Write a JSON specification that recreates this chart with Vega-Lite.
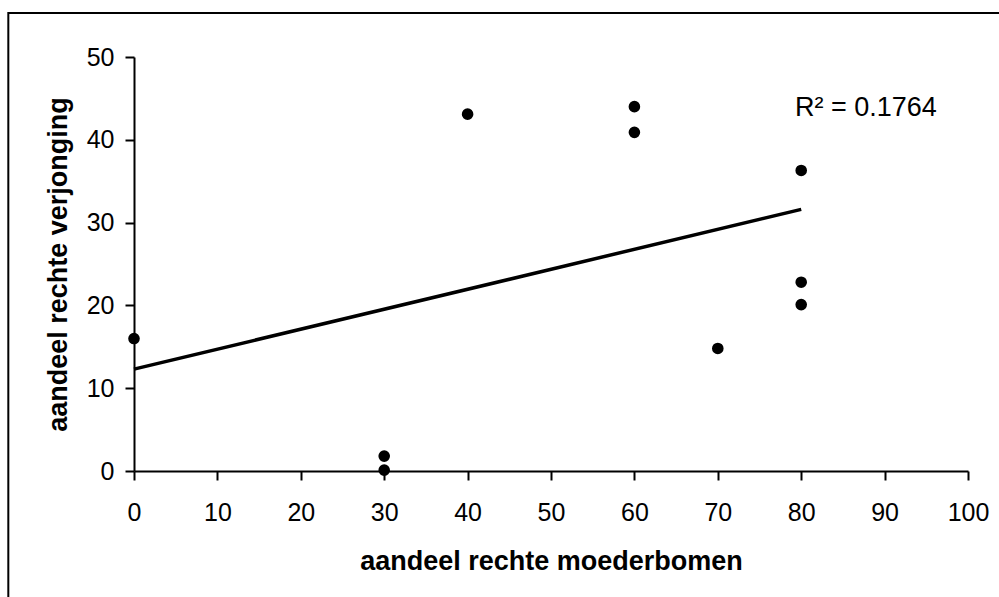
{
  "$schema": "https://vega.github.io/schema/vega-lite/v6.json",
  "autosize": {"type": "none"},
  "padding": {"left": 134, "top": 57, "right": 31, "bottom": 126},
  "width": 834,
  "height": 414,
  "background": "white",
  "config": {
    "view": {"stroke": null},
    "font": "Liberation Sans",
    "axis": {
      "grid": false,
      "labelFlush": false,
      "labelOverlap": false,
      "domainColor": "black",
      "domainWidth": 2,
      "tickColor": "black",
      "tickWidth": 2,
      "tickSize": 9,
      "labelColor": "black",
      "labelFont": "Liberation Sans",
      "labelFontSize": 25,
      "titleColor": "black",
      "titleFont": "Liberation Sans",
      "titleFontSize": 27,
      "titleFontWeight": "bold"
    }
  },
  "datasets": {
    "punten": [
      {"moeder": 0, "verjonging": 16.0},
      {"moeder": 30, "verjonging": 1.8},
      {"moeder": 30, "verjonging": 0.1},
      {"moeder": 40, "verjonging": 43.1},
      {"moeder": 60, "verjonging": 44.0},
      {"moeder": 60, "verjonging": 40.9},
      {"moeder": 70, "verjonging": 14.8},
      {"moeder": 80, "verjonging": 36.3},
      {"moeder": 80, "verjonging": 22.8},
      {"moeder": 80, "verjonging": 20.1}
    ],
    "trend": [
      {"moeder": 0, "verjonging": 12.3},
      {"moeder": 80, "verjonging": 31.6}
    ],
    "label": [
      {"moeder": 79.26, "verjonging": 42.87, "tekst": "R² = 0.1764"}
    ],
    "kader": [
      {"x1": -15.07, "x2": 200, "y1": 55.31, "y2": -100}
    ]
  },
  "layer": [
    {
      "data": {"name": "kader"},
      "mark": {"type": "rect", "fill": null, "stroke": "black", "strokeWidth": 2, "clip": false},
      "encoding": {
        "x": {"field": "x1", "type": "quantitative", "scale": {"domain": [0, 100], "nice": false, "zero": false}},
        "x2": {"field": "x2"},
        "y": {"field": "y1", "type": "quantitative", "scale": {"domain": [0, 50], "nice": false, "zero": false}},
        "y2": {"field": "y2"}
      }
    },
    {
      "data": {"name": "trend"},
      "mark": {"type": "line", "color": "black", "strokeWidth": 3.5},
      "encoding": {
        "x": {"field": "moeder", "type": "quantitative"},
        "y": {"field": "verjonging", "type": "quantitative"}
      }
    },
    {
      "data": {"name": "punten"},
      "mark": {"type": "point", "shape": "circle", "filled": true, "color": "black", "opacity": 1, "size": 135},
      "encoding": {
        "x": {
          "field": "moeder",
          "type": "quantitative",
          "title": "aandeel rechte moederbomen",
          "scale": {"domain": [0, 100], "nice": false, "zero": false},
          "axis": {"values": [0, 10, 20, 30, 40, 50, 60, 70, 80, 90, 100], "labelPadding": 20, "titlePadding": 23}
        },
        "y": {
          "field": "verjonging",
          "type": "quantitative",
          "title": "aandeel rechte verjonging",
          "scale": {"domain": [0, 50], "nice": false, "zero": false},
          "axis": {"values": [0, 10, 20, 30, 40, 50], "labelPadding": 11, "titlePadding": 14}
        }
      }
    },
    {
      "data": {"name": "label"},
      "mark": {"type": "text", "align": "left", "baseline": "alphabetic", "fontSize": 27, "color": "black", "font": "Liberation Sans"},
      "encoding": {
        "x": {"field": "moeder", "type": "quantitative"},
        "y": {"field": "verjonging", "type": "quantitative"},
        "text": {"field": "tekst"}
      }
    }
  ]
}
